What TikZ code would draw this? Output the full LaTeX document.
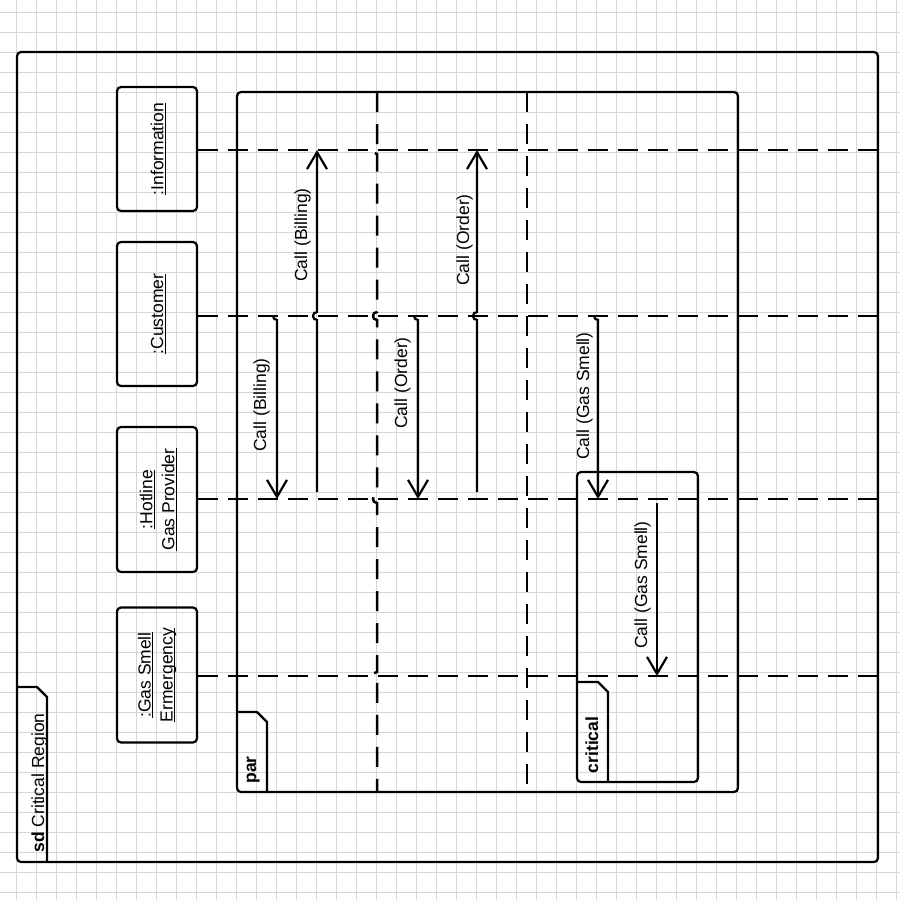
\documentclass[tikz,border=0pt]{standalone}
\usepackage{fontspec}
\setmainfont{Liberation Sans}
\usetikzlibrary{arrows.meta,calc}
\newbox\ulbox
\newcommand\ulx[1]{\setbox\ulbox\hbox{#1}\rlap{\raisebox{-1.3pt}[0pt][0pt]{\rule{\wd\ulbox}{0.5pt}}}\box\ulbox}
\begin{document}
\begin{tikzpicture}[x=0.5pt,y=-0.5pt,
  every node/.style={font=\fontsize{8.75}{11}\selectfont, inner sep=0pt},
  gridl/.style={draw=black!16, line width=0.5pt},
  lbox/.style={draw, line width=1.1pt, rounded corners=2pt, rotate=90, align=center, minimum height=40pt},
  frm/.style={draw, line width=1.1pt, rounded corners=2pt},
  tabl/.style={draw, line width=1.1pt, line join=round},
  life/.style={line width=1.25pt, dash pattern=on 10pt off 5pt},
  divl/.style={line width=1.25pt, dash pattern=on 10pt off 6pt},
  msg/.style={line width=1.1pt, -{Straight Barb[length=8.5pt,width=10pt]}},
  lbl/.style={rotate=90, anchor=base},
]
\useasboundingbox (0,0) rectangle (900,900);
\fill[white] (0,0) rectangle (900,900);
\foreach \i in {0,...,44}{
  \draw[gridl] ({16+20*\i},0) -- ({16+20*\i},900);
  \draw[gridl] (0,{12+20*\i}) -- (900,{12+20*\i});
}
% outer frame
\draw[frm] (17,52) rectangle (878,862);
\draw[tabl] (17,687) -- (37,687) -- (47,697) -- (47,862);
\node[lbl] (sdl) at (44,783) {\textbf{sd} Critical Region};
% par frame
\draw[frm] (237,92) rectangle (738,792);
\draw[tabl] (237,712) -- (257,712) -- (267,722) -- (267,792);
\node[lbl] (parl) at (256,770) {\textbf{par}};
% critical frame
\draw[frm] (577,472) rectangle (698,782);
\draw[tabl] (577,682) -- (598,682) -- (608,692) -- (608,782);
\node[lbl] (critl) at (598,745) {\textbf{critical}};
% lifeline heads
\node[lbox, minimum width=62pt] (info) at (157,149) {\ulx{:Information}};
\node[lbox, minimum width=72pt] (cust) at (157,314) {\ulx{:Customer}};
\node[lbox, minimum width=72.5pt] (hot) at (157,499.5) {\ulx{:Hotline}\\\ulx{Gas Provider}};
\node[lbox, minimum width=67.5pt] (gas) at (157,675) {\ulx{:Gas Smell}\\\ulx{Ermergency}};
% lifelines
\coordinate (L1) at (882,150);
\coordinate (L2) at (882,316);
\coordinate (L3) at (882,499);
\coordinate (L4) at (882,676);
\draw[life] (info.south |- L1) -- (L1);
\draw[life] (cust.south |- L2) -- (L2);
\draw[life] (hot.south |- L3) -- (L3);
\draw[life] (gas.south |- L4) -- (L4);
% par dividers
\coordinate (D1a) at (377,92); \coordinate (D1b) at (377,792);
\coordinate (D2a) at (527,92); \coordinate (D2b) at (527,792);
\draw[divl] (D1a) -- (377,146) .. controls (371.7,146) and (371.7,154) .. (377,154)
  -- (377,312) .. controls (371.7,312) and (371.7,320) .. (377,320)
  -- (377,495) .. controls (371.7,495) and (371.7,503) .. (377,503)
  -- (377,672) .. controls (371.7,672) and (371.7,680) .. (377,680) -- (D1b);
\draw[divl] (D2a) -- (D2b);
% messages
\coordinate (m1a) at (277,316); \coordinate (m1b) at (277,499);
\draw[msg] ($(m1a)+(-4,0)$) .. controls ($(m1a)+(-4,2.2)$) and ($(m1a)+(-2.2,4)$) .. ($(m1a)+(0,4)$) -- (m1b);
\node[lbl] (t1) at (266,405) {Call (Billing)};
\coordinate (m2a) at (317,492); \coordinate (m2x) at (317,316); \coordinate (m2b) at (317,150);
\draw[msg] (m2a) -- ($(m2x)+(0,4)$) .. controls ($(m2x)+(-5.3,4)$) and ($(m2x)+(-5.3,-4)$) .. ($(m2x)+(0,-4)$) -- (m2b);
\node[lbl] (t2) at (307,235) {Call (Billing)};
\coordinate (m3a) at (418,316); \coordinate (m3b) at (418,499);
\draw[msg] ($(m3a)+(-4,0)$) .. controls ($(m3a)+(-4,2.2)$) and ($(m3a)+(-2.2,4)$) .. ($(m3a)+(0,4)$) -- (m3b);
\node[lbl] (t3) at (407,383) {Call (Order)};
\coordinate (m4a) at (477,492); \coordinate (m4x) at (477,316); \coordinate (m4b) at (477,150);
\draw[msg] (m4a) -- ($(m4x)+(0,4)$) .. controls ($(m4x)+(-5.3,4)$) and ($(m4x)+(-5.3,-4)$) .. ($(m4x)+(0,-4)$) -- (m4b);
\node[lbl] (t4) at (469,240) {Call (Order)};
\coordinate (m5a) at (598,316); \coordinate (m5b) at (598,499);
\draw[msg] ($(m5a)+(-4,0)$) .. controls ($(m5a)+(-4,2.2)$) and ($(m5a)+(-2.2,4)$) .. ($(m5a)+(0,4)$) -- (m5b);
\node[lbl] (t5) at (589,396) {Call (Gas Smell)};
\coordinate (m6a) at (657,503); \coordinate (m6b) at (657,676);
\draw[msg] (m6a) -- (m6b);
\node[lbl] (t6) at (647,585) {Call (Gas Smell)};
\end{tikzpicture}
\end{document}
